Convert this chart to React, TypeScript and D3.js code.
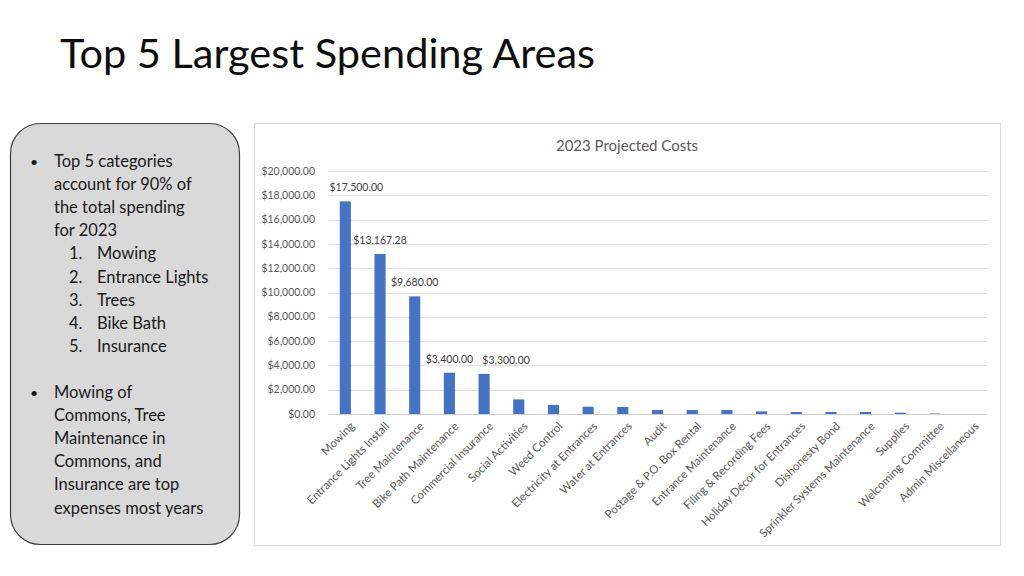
import * as React from 'react';
import * as d3 from 'd3';

// chart data
const categories = [
  'Mowing',
  'Entrance Lights Install',
  'Tree Maintenance',
  'Bike Path Maintenance',
  'Commercial Insurance',
  'Social Activities',
  'Weed Control',
  'Electricity at Entrances',
  'Water at Entrances',
  'Audit',
  'Postage & P.O. Box Rental',
  'Entrance Maintenance',
  'Filing & Recording Fees',
  'Holiday Décor for Entrances',
  'Dishonesty Bond',
  'Sprinkler Systems Maintenance',
  'Supplies',
  'Welcoming Committee',
  'Admin Miscellaneous',
];
const costs2023 = [
  17500, 13167.28, 9680, 3400, 3300, 1200, 750, 600, 580, 330, 330, 330, 215,
  165, 165, 165, 110, 80, 0,
];
const labelledCount = 5;
const yTicks = [0, 2000, 4000, 6000, 8000, 10000, 12000, 14000, 16000, 18000, 20000];

const bulletOne = ['Top 5 categories', 'account for 90% of', 'the total spending', 'for 2023'];
const topFive = ['Mowing', 'Entrance Lights', 'Trees', 'Bike Bath', 'Insurance'];
const bulletTwo = [
  'Mowing of',
  'Commons, Tree',
  'Maintenance in',
  'Commons, and',
  'Insurance are top',
  'expenses most years',
];

const W = 1024;
const H = 576;
const FONT = 'Lato, "Open Sans", sans-serif';

export default function App() {
  const ref = React.useRef<SVGSVGElement | null>(null);

  React.useEffect(() => {
    if (!ref.current) return;
    const svg = d3.select(ref.current);
    svg.selectAll('*').remove();

    svg.append('rect').attr('width', W).attr('height', H).attr('fill', '#ffffff');

    svg
      .append('text')
      .attr('x', 60)
      .attr('y', 68)
      .attr('font-family', FONT)
      .attr('font-size', 41.5)
      .attr('fill', '#0d0d0d')
      .text('Top 5 Largest Spending Areas');

    // left text box
    svg
      .append('rect')
      .attr('x', 10.5)
      .attr('y', 123.5)
      .attr('width', 229)
      .attr('height', 421)
      .attr('rx', 30)
      .attr('fill', '#d9d9d9')
      .attr('stroke', '#404040')
      .attr('stroke-width', 1.2);

    const box = svg
      .append('g')
      .attr('font-family', FONT)
      .attr('font-size', 16.5)
      .attr('fill', '#1a1a1a');
    const lh = 23.1;
    box.append('text').attr('x', 30).attr('y', 167).attr('font-size', 14).text('•');
    bulletOne.forEach((t, i) => {
      box.append('text').attr('x', 54).attr('y', 167 + i * lh).text(t);
    });
    topFive.forEach((t, i) => {
      const y = 167 + (bulletOne.length + i) * lh;
      box.append('text').attr('x', 69).attr('y', y).text(i + 1 + '.');
      box.append('text').attr('x', 97).attr('y', y).text(t);
    });
    const y2 = 398;
    box.append('text').attr('x', 30).attr('y', y2).attr('font-size', 14).text('•');
    bulletTwo.forEach((t, i) => {
      box.append('text').attr('x', 54).attr('y', y2 + i * lh).text(t);
    });

    // chart frame
    svg
      .append('rect')
      .attr('x', 254.5)
      .attr('y', 123.5)
      .attr('width', 746)
      .attr('height', 422)
      .attr('fill', '#ffffff')
      .attr('stroke', '#d9d9d9');

    svg
      .append('text')
      .attr('x', 627)
      .attr('y', 151)
      .attr('text-anchor', 'middle')
      .attr('font-family', FONT)
      .attr('font-size', 15)
      .attr('fill', '#595959')
      .text('2023 Projected Costs');

    const x = d3
      .scaleBand<string>()
      .domain(categories)
      .range([328, 987])
      .paddingInner(0.68)
      .paddingOuter(0.34);
    const y = d3.scaleLinear().domain([0, 20000]).range([414, 171]);
    const fmt = d3.format('$,.2f');

    svg
      .append('g')
      .selectAll('line')
      .data(yTicks)
      .enter()
      .append('line')
      .attr('x1', 328)
      .attr('x2', 987)
      .attr('y1', (d) => Math.round(y(d)) + 0.5)
      .attr('y2', (d) => Math.round(y(d)) + 0.5)
      .attr('stroke', (d) => (d === 0 ? '#d0d0d0' : '#e0e0e0'))
      .attr('stroke-width', 1);

    svg
      .append('g')
      .selectAll('text')
      .data(yTicks)
      .enter()
      .append('text')
      .attr('x', 315)
      .attr('y', (d) => y(d))
      .attr('dy', '0.35em')
      .attr('text-anchor', 'end')
      .attr('font-family', FONT)
      .attr('font-size', 10.5)
      .attr('fill', '#595959')
      .text((d) => fmt(d));

    svg
      .append('g')
      .selectAll('rect')
      .data(costs2023)
      .enter()
      .append('rect')
      .attr('x', (_d, i) => x(categories[i]) ?? 0)
      .attr('y', (d) => y(d))
      .attr('width', x.bandwidth())
      .attr('height', (d) => y(0) - y(d))
      .attr('fill', (_d, i) => (i === 17 ? '#a9b9dc' : '#4472c4'));

    // value labels on the five biggest bars
    const labelShift = [11, 0, 0, 0, 22];
    svg
      .append('g')
      .selectAll('text')
      .data(costs2023.slice(0, labelledCount))
      .enter()
      .append('text')
      .attr('x', (_d, i) => (x(categories[i]) ?? 0) + x.bandwidth() / 2 + labelShift[i])
      .attr('y', (d) => y(d) - 10)
      .attr('text-anchor', 'middle')
      .attr('font-family', FONT)
      .attr('font-size', 10.5)
      .attr('fill', '#404040')
      .text((d) => fmt(d));

    svg
      .append('g')
      .selectAll('text')
      .data(categories)
      .enter()
      .append('text')
      .attr('transform', (d) => {
        const cx = (x(d) ?? 0) + x.bandwidth() / 2;
        return `translate(${cx + 7},${424}) rotate(-45)`;
      })
      .attr('text-anchor', 'end')
      .attr('dy', '0.35em')
      .attr('font-family', FONT)
      .attr('font-size', 11.5)
      .attr('fill', '#595959')
      .text((d) => d);
  }, []);

  return (
    <svg
      ref={ref}
      width={W}
      height={H}
      viewBox={`0 0 ${W} ${H}`}
      style={{ position: 'absolute', left: 0, top: 0, display: 'block' }}
    />
  );
}
